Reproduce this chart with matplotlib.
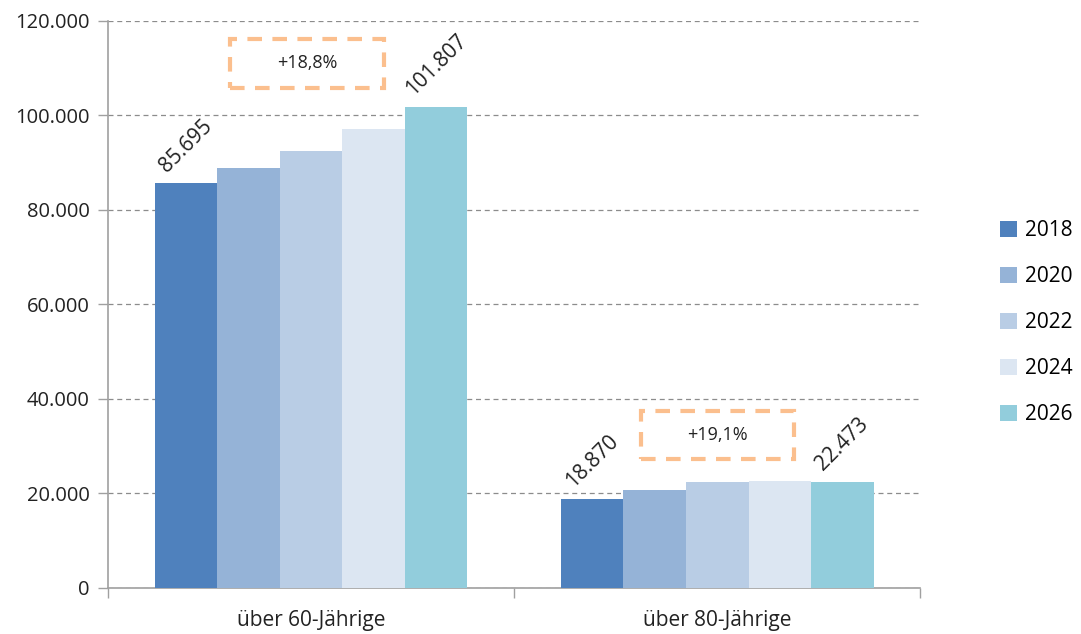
import matplotlib
matplotlib.use("Agg")
import matplotlib.pyplot as plt
from matplotlib.ticker import FuncFormatter, FixedLocator
import numpy as np

plt.rcParams['font.family'] = ['Open Sans', 'DejaVu Sans']

categories = ["über 60-Jährige", "über 80-Jährige"]
years = ["2018", "2020", "2022", "2024", "2026"]
values = {
    "2018": [85695, 18870],
    "2020": [88800, 20750],
    "2022": [92500, 22350],
    "2024": [97100, 22700],
    "2026": [101807, 22473],
}
labels_first = ["85.695", "18.870"]
labels_last = ["101.807", "22.473"]
changes = ["+18,8%", "+19,1%"]
colors = ["#4F81BD", "#95B3D7", "#B9CDE5", "#DCE6F2", "#92CDDC"]

fig = plt.figure(figsize=(10.81, 6.34), dpi=100)
ax = fig.add_axes([0.0999, 0.0726, 0.7515, 0.8944])

x = np.arange(len(categories))
n = len(years)
w = 0.77 / n
for i, (yr, c) in enumerate(zip(years, colors)):
    pos = x - 0.385 + w * (i + 0.5)
    ax.bar(pos, values[yr], width=w, color=c, label=yr, zorder=3)
    if i == 0:
        for p, v, t in zip(pos, values[yr], labels_first):
            ax.annotate(t, (p, v), xytext=(0, 5), textcoords='offset points',
                        rotation=45, ha='center', va='bottom', fontsize=15, color='#222222')
    if i == n - 1:
        for p, v, t in zip(pos, values[yr], labels_last):
            ax.annotate(t, (p, v), xytext=(0, 5), textcoords='offset points',
                        rotation=45, ha='center', va='bottom', fontsize=15, color='#222222')

# change boxes (data coords: centre x, centre y)
box_pos = [(-0.01, 111000), (1.0, 32400)]
for (bx, by), t in zip(box_pos, changes):
    ax.text(bx, by, t, ha='center', va='center', fontsize=13, color='#222222', zorder=5)
    bw, bh = 0.377, 10200
    rect = plt.Rectangle((bx - bw / 2, by - bh / 2), bw, bh, fill=False,
                         edgecolor='#FBBF8E', linewidth=3, linestyle=(0, (3.5, 2.5)),
                         zorder=5, clip_on=False)
    ax.add_patch(rect)

ax.set_xlim(-0.5, 1.5)
ax.set_ylim(0, 120000)
ax.yaxis.set_major_locator(FixedLocator(np.arange(0, 120001, 20000)))
ax.yaxis.set_major_formatter(FuncFormatter(lambda v, p: f"{int(v):,}".replace(",", ".")))
ax.grid(axis='y', color='#8C8C8C', linestyle=(0, (4, 3)), linewidth=0.9, zorder=0)
ax.set_axisbelow(True)

ax.set_xticks(x)
ax.set_xticklabels(categories, fontsize=15, color='#222222')
ax.set_xticks([-0.5, 0.5, 1.5], minor=True)
ax.tick_params(axis='x', which='major', length=0, pad=16)
ax.tick_params(axis='x', which='minor', length=7, color='#A0A0A0', width=1)
ax.tick_params(axis='y', length=7, color='#A0A0A0', width=1, labelsize=14.5, labelcolor='#222222', pad=6)

for s in ['top', 'right']:
    ax.spines[s].set_visible(False)
for s in ['left', 'bottom']:
    ax.spines[s].set_color('#A0A0A0')
    ax.spines[s].set_linewidth(1.2)

leg = fig.legend(loc='center left', bbox_to_anchor=(0.908, 0.491), frameon=False,
                 fontsize=15, handlelength=0.8, handleheight=0.8, handletextpad=0.4,
                 labelspacing=1.2)

fig.savefig("out.png", dpi=100)
